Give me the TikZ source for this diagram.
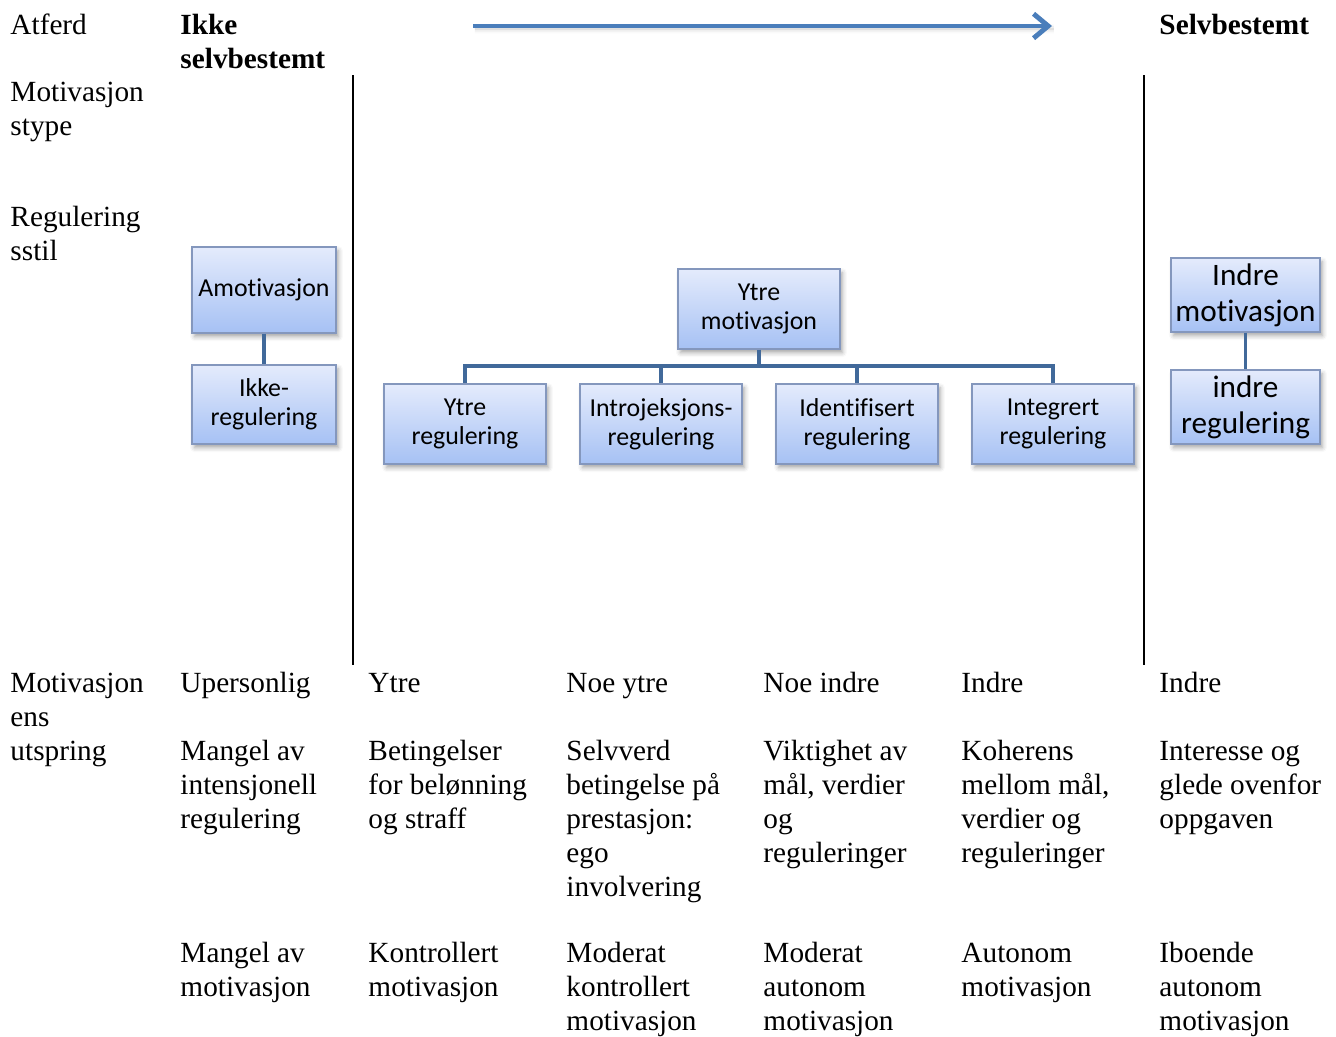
\documentclass[tikz,border=0pt]{standalone}
\usepackage{fontspec}
\setmainfont{Liberation Serif}
\newfontfamily\boxfont[Ligatures=NoCommon]{Carlito}
\usepackage{tikz}
\usetikzlibrary{arrows.meta,shadows.blur}
\definecolor{boxtop}{HTML}{E4EBFC}
\definecolor{boxbot}{HTML}{A6C1F4}
\definecolor{boxline}{HTML}{8497BD}
\definecolor{connblue}{HTML}{41699A}
\definecolor{arrowblue}{HTML}{4A7EBB}

\begin{document}
\begin{tikzpicture}[x=0.41pt, y=-0.41pt,
  lbl/.style={anchor=north west, inner sep=0pt, align=left,
    font=\fontsize{12}{13.9}\selectfont},
  bold/.style={lbl, font=\fontsize{12}{13.9}\selectfont\bfseries},
  box/.style={draw=boxline, line width=0.5pt, top color=boxtop, bottom color=boxbot,
    inner sep=0pt, align=center, font=\boxfont\fontsize{10.6}{11.9}\selectfont,
    blur shadow={shadow xshift=1pt, shadow yshift=-1.5pt, shadow blur steps=4, shadow opacity=35}},
  bigbox/.style={box, font=\boxfont\fontsize{12.8}{14.8}\selectfont},
  conn/.style={draw=connblue, line width=1.6pt},
  pil/.style={draw=arrowblue, line width=2pt, -{Straight Barb[length=6pt,width=10pt]},
    blur shadow={shadow xshift=0.8pt, shadow yshift=-1.2pt, shadow blur steps=3, shadow opacity=25}}]

\useasboundingbox (0,0) rectangle (1336,1036);

\node[lbl] (atferd) at (10,10) {\strut Atferd};
\node[bold] (ikkeselv) at (180,10.5) {\strut Ikke\\selvbestemt};
\node[bold] (selv) at (1159,10.5) {\strut Selvbestemt};
\node[lbl] (mottype) at (10,77) {\strut Motivasjon\\stype};
\node[lbl] (regstil) at (10,202) {\strut Regulering\\sstil};

\coordinate (pilstart) at (473,26);
\coordinate (pilslutt) at (1052,26);
\draw[pil] (pilstart) -- (pilslutt);

\coordinate (venstretopp) at (353,75);
\coordinate (venstrebunn) at (353,665);
\coordinate (hoyretopp) at (1144,75);
\coordinate (hoyrebunn) at (1144,665);
\draw[line width=0.8pt] (venstretopp) -- (venstrebunn);
\draw[line width=0.8pt] (hoyretopp) -- (hoyrebunn);

\node[box, minimum width=59pt, minimum height=35.3pt] (amot) at (264,290) {Amotivasjon};
\node[box, minimum width=59pt, minimum height=32.4pt] (ikkereg) at (264,404.5) {Ikke-\\regulering};
\draw[conn] (amot.south) -- (ikkereg.north);

\node[box, minimum width=66.4pt, minimum height=32.8pt] (ytremot) at (759,309) {Ytre\\motivasjon};
\node[box, minimum width=66.4pt, minimum height=32.8pt] (ytrereg) at (465,424) {Ytre\\regulering};
\node[box, minimum width=66.4pt, minimum height=32.8pt] (introreg) at (661,424) {Introjeksjons-\\regulering};
\node[box, minimum width=66.4pt, minimum height=32.8pt] (identreg) at (857,424) {Identifisert\\regulering};
\node[box, minimum width=66.4pt, minimum height=32.8pt] (integreg) at (1053,424) {Integrert\\regulering};
\coordinate (buss) at (759,366);
\draw[conn] (ytremot.south) -- (buss);
\draw[conn] (buss) -| (ytrereg.north);
\draw[conn] (buss) -| (introreg.north);
\draw[conn] (buss) -| (identreg.north);
\draw[conn] (buss) -| (integreg.north);

\node[bigbox, minimum width=61.1pt, minimum height=30.3pt] (indremot) at (1245.5,295) {Indre\\motivasjon};
\node[bigbox, minimum width=61.1pt, minimum height=30.3pt] (indrereg) at (1245.5,407) {indre\\regulering};
\draw[conn] (indremot.south) -- (indrereg.north);

\node[lbl] (utspring) at (10,668.3) {\strut Motivasjon\\ens\\utspring};
\node[lbl] (kilde1) at (180,668.3) {\strut Upersonlig};
\node[lbl] (kilde2) at (368,668.3) {\strut Ytre};
\node[lbl] (kilde3) at (566,668.3) {\strut Noe ytre};
\node[lbl] (kilde4) at (763,668.3) {\strut Noe indre};
\node[lbl] (kilde5) at (961,668.3) {\strut Indre};
\node[lbl] (kilde6) at (1159,668.3) {\strut Indre};

\node[lbl] (prosess1) at (180,736.5) {\strut Mangel av\\intensjonell\\regulering};
\node[lbl] (prosess2) at (368,736.5) {\strut Betingelser\\for belønning\\og straff};
\node[lbl] (prosess3) at (566,736.5) {\strut Selvverd\\betingelse på\\prestasjon:\\ego\\involvering};
\node[lbl] (prosess4) at (763,736.5) {\strut Viktighet av\\mål, verdier\\og\\reguleringer};
\node[lbl] (prosess5) at (961,736.5) {\strut Koherens\\mellom mål,\\verdier og\\reguleringer};
\node[lbl] (prosess6) at (1159,736.5) {\strut Interesse og\\glede ovenfor\\oppgaven};

\node[lbl] (type1) at (180,938.3) {\strut Mangel av\\motivasjon};
\node[lbl] (type2) at (368,938.3) {\strut Kontrollert\\motivasjon};
\node[lbl] (type3) at (566,938.3) {\strut Moderat\\kontrollert\\motivasjon};
\node[lbl] (type4) at (763,938.3) {\strut Moderat\\autonom\\motivasjon};
\node[lbl] (type5) at (961,938.3) {\strut Autonom\\motivasjon};
\node[lbl] (type6) at (1159,938.3) {\strut Iboende\\autonom\\motivasjon};

\end{tikzpicture}
\end{document}
